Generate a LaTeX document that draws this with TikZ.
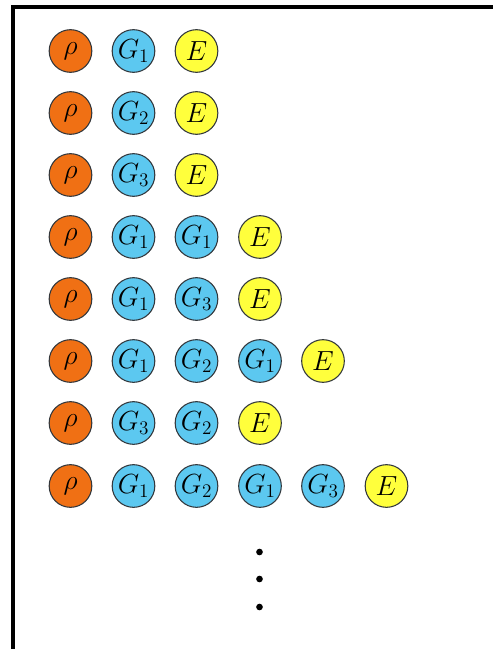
\documentclass[tikz,border=0pt]{standalone}
\definecolor{rhoorange}{RGB}{240,112,20}
\definecolor{gblue}{RGB}{92,200,240}
\definecolor{eyellow}{RGB}{255,255,60}
\definecolor{ringgray}{RGB}{50,55,60}
\tikzset{
  ball/.style={circle, draw=ringgray, line width=0.8pt, minimum size=32pt, inner sep=0pt, font=\fontsize{20.5}{24}\selectfont},
  rhoball/.style={ball, fill=rhoorange},
  gball/.style={ball, fill=gblue},
  eball/.style={ball, fill=eyellow},
  frameline/.style={line width=2.6pt, black},
  dotmark/.style={circle, fill=black, inner sep=0pt, minimum size=5pt}
}
\begin{document}
\begin{tikzpicture}[x=0.75pt,y=-0.75pt]
\useasboundingbox (0,0) rectangle (493,649);
\coordinate (fbl) at (13,649);
\coordinate (ftl) at (13,7);
\coordinate (ftr) at (493,7);
\draw[frameline] (fbl) -- (ftl) -- (ftr);
% row 1
\node[rhoball] (r1a) at (70.5,51) {$\rho$};
\node[gball] (r1b) at (133.5,51) {$G_1$};
\node[eball] (r1c) at (196.5,51) {$E$};
% row 2
\node[rhoball] (r2a) at (70.5,113) {$\rho$};
\node[gball] (r2b) at (133.5,113) {$G_2$};
\node[eball] (r2c) at (196.5,113) {$E$};
% row 3
\node[rhoball] (r3a) at (70.5,175) {$\rho$};
\node[gball] (r3b) at (133.5,175) {$G_3$};
\node[eball] (r3c) at (196.5,175) {$E$};
% row 4
\node[rhoball] (r4a) at (70.5,237) {$\rho$};
\node[gball] (r4b) at (133.5,237) {$G_1$};
\node[gball] (r4c) at (196.5,237) {$G_1$};
\node[eball] (r4d) at (260,237) {$E$};
% row 5
\node[rhoball] (r5a) at (70.5,299) {$\rho$};
\node[gball] (r5b) at (133.5,299) {$G_1$};
\node[gball] (r5c) at (196.5,299) {$G_3$};
\node[eball] (r5d) at (260,299) {$E$};
% row 6
\node[rhoball] (r6a) at (70.5,361) {$\rho$};
\node[gball] (r6b) at (133.5,361) {$G_1$};
\node[gball] (r6c) at (196.5,361) {$G_2$};
\node[gball] (r6d) at (260,361) {$G_1$};
\node[eball] (r6e) at (323,361) {$E$};
% row 7
\node[rhoball] (r7a) at (70.5,423) {$\rho$};
\node[gball] (r7b) at (133.5,423) {$G_3$};
\node[gball] (r7c) at (196.5,423) {$G_2$};
\node[eball] (r7d) at (260,423) {$E$};
% row 8
\node[rhoball] (r8a) at (70.5,486) {$\rho$};
\node[gball] (r8b) at (133.5,486) {$G_1$};
\node[gball] (r8c) at (196.5,486) {$G_2$};
\node[gball] (r8d) at (260,486) {$G_1$};
\node[gball] (r8e) at (323,486) {$G_3$};
\node[eball] (r8f) at (386.5,486) {$E$};
% dots
\node[dotmark] (d1) at (259.5,552) {};
\node[dotmark] (d2) at (259.5,579) {};
\node[dotmark] (d3) at (259.5,607) {};
\end{tikzpicture}
\end{document}
